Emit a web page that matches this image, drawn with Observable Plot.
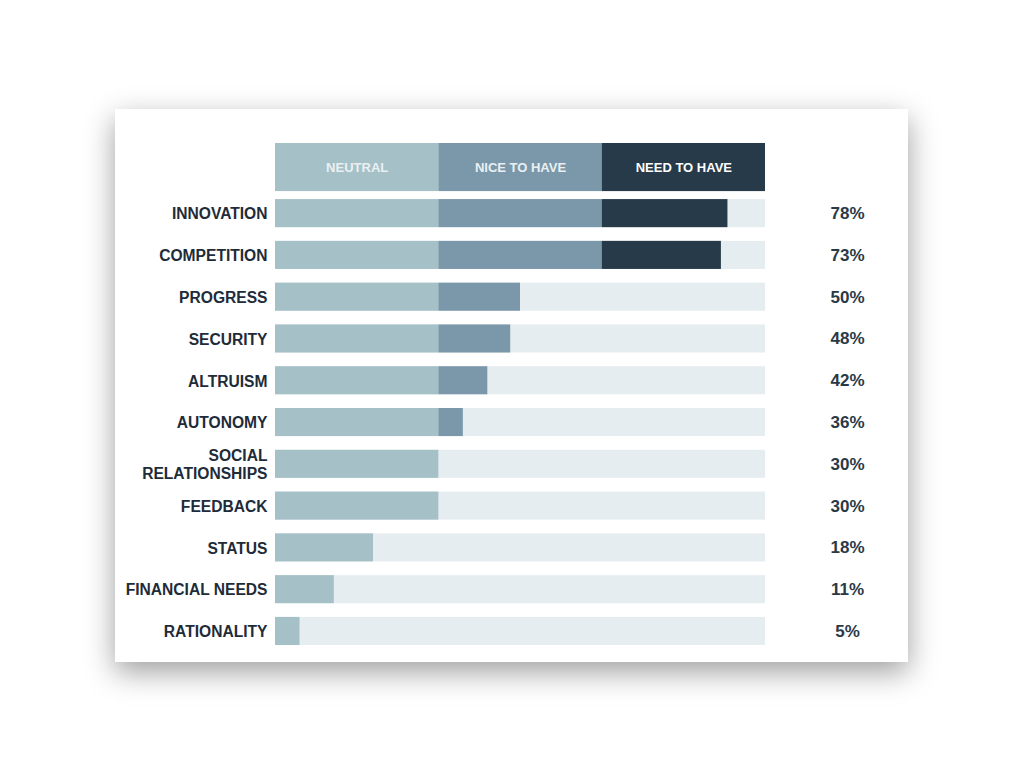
<!DOCTYPE html>
<html>
<head>
<meta charset="utf-8">
<script src="https://cdn.jsdelivr.net/npm/d3@7"></script>
<script src="https://cdn.jsdelivr.net/npm/@observablehq/plot@0.6"></script>
<style>
  html, body { margin: 0; padding: 0; background: #ffffff; }
  body { width: 1024px; height: 768px; position: relative; overflow: hidden; }
  #card {
    position: absolute; left: 115px; top: 109px; width: 793px; height: 553px;
    background: #ffffff;
    box-shadow: 0 10px 28px rgba(0,0,0,0.38);
  }
  #card svg { display: block; }
</style>
</head>
<body>
<div id="card"></div>
<script>
// Categories (top to bottom)
const categories = [
  "INNOVATION", "COMPETITION", "PROGRESS", "SECURITY", "ALTRUISM", "AUTONOMY",
  "SOCIAL\nRELATIONSHIPS", "FEEDBACK", "STATUS", "FINANCIAL NEEDS", "RATIONALITY"
];
// Bar length in tier units (0-1 neutral, 1-2 nice to have, 2-3 need to have)
const scores = [2.77, 2.73, 1.50, 1.44, 1.30, 1.15, 1.00, 1.00, 0.60, 0.36, 0.15];
// Percent labels on the right
const percents = [78, 73, 50, 48, 42, 36, 30, 30, 18, 11, 5];
// Tier headers
const tiers = ["NEUTRAL", "NICE TO HAVE", "NEED TO HAVE"];
const tierColors = ["#a6c0c8", "#7a98aa", "#263a4a"];
const tierTextColors = ["#eaf0f2", "#eaf0f2", "#ffffff"];
const trackColor = "#e6edf0";
const HEADER = "__header__";

const segments = [];
categories.forEach((c, i) => {
  tiers.forEach((t, k) => {
    const len = Math.max(0, Math.min(1, scores[i] - k));
    if (len > 0) segments.push({category: c, tier: k, x1: k, x2: k + len});
  });
});

const barInset = 6.85;

const chart = Plot.plot({
  width: 793,
  height: 553,
  marginLeft: 160,
  marginRight: 143,
  marginTop: 41.45,
  marginBottom: 10.15,
  style: {fontFamily: "'Liberation Sans', Arial, Helvetica, sans-serif", color: "#1e2b38", background: "transparent"},
  x: {domain: [0, 3], axis: null},
  y: {domain: [HEADER, ...categories], padding: 0, round: false, axis: null, label: null},
  marks: [
    Plot.barX(categories, {y: d => d, x1: 0, x2: 3, fill: trackColor, insetTop: barInset, insetBottom: barInset}),
    Plot.barX(segments, {y: "category", x1: "x1", x2: "x2", fill: d => tierColors[d.tier], insetTop: barInset, insetBottom: barInset}),
    Plot.barX(tiers, {y: () => HEADER, x1: (d, i) => i, x2: (d, i) => i + 1, fill: (d, i) => tierColors[i], insetTop: -7.45, insetBottom: 1.15}),
    Plot.text(tiers, {y: () => HEADER, x: (d, i) => i + 0.5, dy: -4, text: d => d, fill: (d, i) => tierTextColors[i], fontSize: 13, fontWeight: "bold"}),
    Plot.axisY({ticks: categories, tickSize: 0, tickPadding: 8, label: null, fontSize: 15.6, fontWeight: "bold", lineHeight: 1.15, fill: "#1e2b38"}),
    Plot.text(categories, {y: d => d, x: 3, dx: 82, text: (d, i) => percents[i] + "%", fontSize: 17, fontWeight: "bold", fill: "#2a3946", textAnchor: "middle"})
  ]
});
document.getElementById("card").appendChild(chart);
</script>
</body>
</html>
